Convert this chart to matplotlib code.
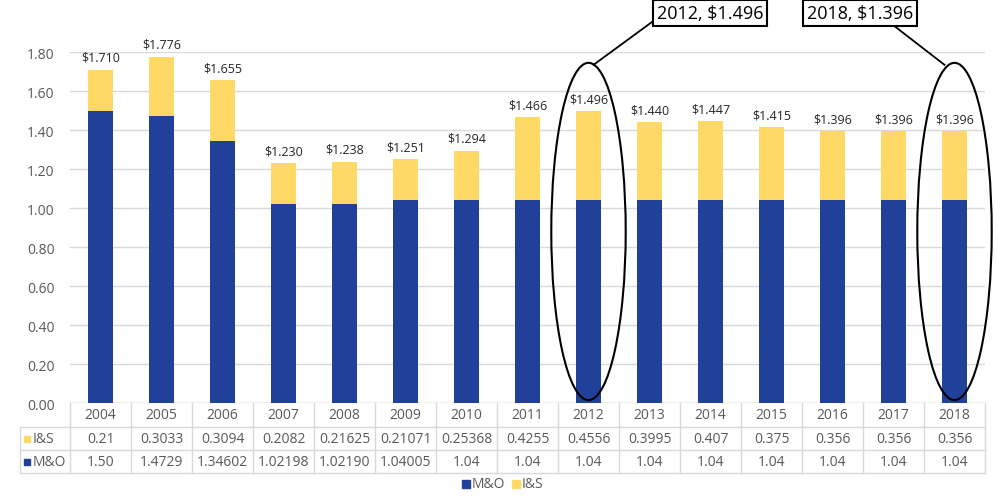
import matplotlib.pyplot as plt
from matplotlib.patches import Ellipse, Rectangle
from matplotlib.lines import Line2D
import matplotlib.transforms as mtransforms

plt.rcParams['font.family'] = ['Open Sans', 'DejaVu Sans']

years = ['2004', '2005', '2006', '2007', '2008', '2009', '2010', '2011',
         '2012', '2013', '2014', '2015', '2016', '2017', '2018']
is_txt = ['0.21', '0.3033', '0.3094', '0.2082', '0.21625', '0.21071', '0.25368', '0.4255',
          '0.4556', '0.3995', '0.407', '0.375', '0.356', '0.356', '0.356']
mo_txt = ['1.50', '1.4729', '1.34602', '1.02198', '1.02190', '1.04005', '1.04', '1.04',
          '1.04', '1.04', '1.04', '1.04', '1.04', '1.04', '1.04']
totals = ['$1.710', '$1.776', '$1.655', '$1.230', '$1.238', '$1.251', '$1.294', '$1.466',
          '$1.496', '$1.440', '$1.447', '$1.415', '$1.396', '$1.396', '$1.396']
callouts = [('2012', '2012, $1.496'), ('2018', '2018, $1.396')]

i_s = [float(v) for v in is_txt]
m_o = [float(v) for v in mo_txt]

blue = '#21409A'
yellow = '#FFD966'
grid_c = '#D9D9D9'
txt_c = '#595959'

fig = plt.figure(figsize=(10, 5.02), dpi=100)
ax = fig.add_axes([0.07, 0.1952, 0.915, 0.699])

x = list(range(len(years)))
ax.bar(x, m_o, width=0.4, color=blue, zorder=3)
ax.bar(x, i_s, width=0.4, bottom=m_o, color=yellow, zorder=3)
for xi, a, b, t in zip(x, m_o, i_s, totals):
    ax.text(xi, a + b + 0.03, t, ha='center', va='bottom', fontsize=9,
            color='#262626', clip_on=False)

ax.set_xlim(-0.5, len(years) - 0.5)
ax.set_ylim(0, 1.8)
ax.set_yticks([i * 0.2 for i in range(10)])
ax.set_yticklabels([f'{i * 0.2:.2f}' for i in range(10)], fontsize=10, color=txt_c)
ax.tick_params(axis='y', length=0, pad=11)
ax.set_xticks([])
ax.grid(axis='y', color=grid_c, lw=1, zorder=0)
for s in ax.spines.values():
    s.set_visible(False)
ax.axhline(0, color=grid_c, lw=1, zorder=1)

# data table below the axis
tr = mtransforms.blended_transform_factory(ax.transData, ax.transAxes)
row_h = 23.5 / 351
rows_y = [-row_h * 0.5, -row_h * 1.5, -row_h * 2.5]
for xi in x:
    ax.text(xi, rows_y[0], years[xi], transform=tr, ha='center', va='center',
            fontsize=10, color=txt_c)
    ax.text(xi, rows_y[1], is_txt[xi], transform=tr, ha='center', va='center',
            fontsize=10, color=txt_c)
    ax.text(xi, rows_y[2], mo_txt[xi], transform=tr, ha='center', va='center',
            fontsize=10, color=txt_c)
for k in range(len(years) + 1):
    ax.add_line(Line2D([k - 0.5, k - 0.5], [0, -3 * row_h], transform=tr,
                       color=grid_c, lw=1, clip_on=False))
lab_left = -0.5 - 50 / (915 / 15)
for r in range(1, 4):
    x0 = lab_left if r > 1 else -0.5
    ax.add_line(Line2D([x0, len(years) - 0.5], [-r * row_h, -r * row_h], transform=tr,
                       color=grid_c, lw=1, clip_on=False))
ax.add_line(Line2D([lab_left, -0.5], [-row_h, -row_h], transform=tr,
                   color=grid_c, lw=1, clip_on=False))
ax.add_line(Line2D([lab_left, lab_left], [-row_h, -3 * row_h], transform=tr,
                   color=grid_c, lw=1, clip_on=False))
for ry, lab, col in [(rows_y[1], 'I&S', yellow), (rows_y[2], 'M&O', blue)]:
    sq = Rectangle((0.024, 0.1952 + ry * 0.699 - 0.007), 0.006, 0.012, color=col,
                   transform=fig.transFigure)
    fig.patches.append(sq)
    ax.text(lab_left + 0.2, ry, lab, transform=tr, ha='left', va='center',
            fontsize=10, color=txt_c)

# legend
fig.patches.append(Rectangle((0.462, 0.026), 0.008, 0.016, color=blue,
                             transform=fig.transFigure))
fig.text(0.472, 0.034, 'M&O', fontsize=10, color=txt_c, va='center')
fig.patches.append(Rectangle((0.512, 0.026), 0.008, 0.016, color=yellow,
                             transform=fig.transFigure))
fig.text(0.522, 0.034, 'I&S', fontsize=10, color=txt_c, va='center')

# callout ellipses and boxes
for (yr, lab), bx, lx in zip(callouts, [710, 860], [(652, 23), (893, 26)]):
    xi = years.index(yr)
    ell = Ellipse((xi, 0.88), 1.22, 1.73, fill=False, ec='black', lw=1.5,
                  zorder=5, clip_on=False)
    ax.add_patch(ell)
    fig.text(bx / 1000, 1 - 14 / 502, lab, ha='center', va='center', fontsize=13,
             color='black',
             bbox=dict(boxstyle='square,pad=0.2', fc='white', ec='black', lw=1.5))
    top = ax.transData.transform((xi, 0.88 + 1.73 / 2))
    fx, fy = fig.transFigure.inverted().transform(top)
    fx = fx + (0.005 if xi == 8 else -0.01)
    fig.add_artist(Line2D([lx[0] / 1000, fx], [1 - lx[1] / 502, fy - 0.004],
                          color='black', lw=1.3))

fig.savefig('out.png', dpi=100)
